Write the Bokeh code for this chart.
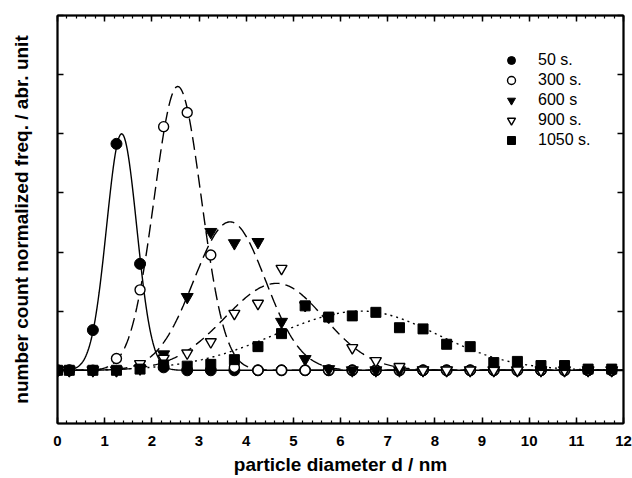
import numpy as np
from bokeh.plotting import figure
from bokeh.models import (Range1d, LinearAxis, SingleIntervalTicker,
                          CustomJSTickFormatter, Legend, LegendItem)
from bokeh.embed import file_html
from bokeh.resources import INLINE

# ---- data ----
diameter = [0, 0.25, 0.75, 1.25, 1.75, 2.25, 2.75, 3.25, 3.75, 4.25, 4.75, 5.25,
            5.75, 6.25, 6.75, 7.25, 7.75, 8.25, 8.75, 9.25, 9.75, 10.25, 10.75,
            11.25, 11.75]
count_50 = [0, 0, 0.68, 3.83, 1.80, 0.05, 0, 0, 0, 0, 0, 0,
            0, 0, 0, 0, 0, 0, 0, 0, 0, 0, 0, 0, 0]
count_300 = [0, 0, 0, 0.20, 1.36, 4.12, 4.36, 1.95, 0.05, 0, 0, 0,
             0, 0, 0, 0, 0, 0, 0, 0, 0, 0, 0, 0, 0]
count_600 = [0, 0, 0, 0, 0.03, 0.27, 1.24, 2.34, 2.15, 2.17, 0.82, 0.19,
             0.02, 0, 0, 0, 0, 0, 0, 0, 0, 0, 0, 0, 0]
count_900 = [0, 0, 0, 0, 0.11, 0.20, 0.29, 0.48, 0.96, 1.13, 1.72, 1.10,
             0.90, 0.38, 0.16, 0.06, 0, 0, 0, 0, 0, 0, 0, 0, 0]
count_1050 = [0, 0, 0, 0, 0.02, 0.09, 0.07, 0.10, 0.18, 0.40, 0.62, 1.09,
              0.90, 0.92, 0.98, 0.72, 0.70, 0.44, 0.40, 0.13, 0.15, 0.08, 0.08,
              0.02, 0.02]
series_labels = ["50 s.", "300 s.", "600 s", "900 s.", "1050 s."]

# fitted (split-gaussian) curve parameters
fit_center = [1.36, 2.55, 3.66, 4.65, 6.45]
fit_amp = [4.0, 4.8, 2.51, 1.47, 1.0]
fit_sig_left = [0.32, 0.50, 0.77, 1.10, 1.83]
fit_sig_right = [0.32, 0.50, 0.75, 1.00, 1.60]
fit_dash = ["solid", "13 6", "13 6", "10 6", "2 4"]

FONT = "Liberation Sans"

p = figure(frame_width=566, frame_height=408, output_backend="svg",
           toolbar_location=None, x_range=Range1d(0, 12),
           y_range=Range1d(-0.9, 6.0),
           min_border_left=57, min_border_right=9, min_border_top=15,
           min_border_bottom=55, background_fill_color="white",
           border_fill_color="white")
p.xgrid.visible = False
p.ygrid.visible = False
p.outline_line_color = "black"
p.outline_line_width = 1.5

empty = CustomJSTickFormatter(code="return ''")

def style_axis(ax, minor, labels):
    ax.axis_line_color = "black"
    ax.axis_line_width = 2
    ax.major_tick_in = 6
    ax.major_tick_out = 0
    ax.major_tick_line_width = 1.5
    ax.major_tick_line_color = "black"
    if minor:
        ax.minor_tick_in = 3
        ax.minor_tick_out = 0
        ax.minor_tick_line_width = 1.2
        ax.minor_tick_line_color = "black"
    else:
        ax.minor_tick_line_color = None
    if not labels:
        ax.formatter = empty
        ax.major_label_standoff = 0

# bottom axis
xa = p.xaxis[0]
xa.ticker = SingleIntervalTicker(interval=1, num_minor_ticks=5)
style_axis(xa, True, True)
xa.major_label_text_font = FONT
xa.major_label_text_font_style = "bold"
xa.major_label_text_font_size = "15px"
xa.major_label_text_color = "black"
xa.major_label_standoff = 12
xa.axis_label = "particle diameter d / nm"
xa.axis_label_text_font = FONT
xa.axis_label_text_font_style = "bold"
xa.axis_label_text_font_size = "19px"
xa.axis_label_text_color = "black"
xa.axis_label_standoff = 5

# left axis
ya = p.yaxis[0]
ya.ticker = SingleIntervalTicker(interval=1, num_minor_ticks=0)
style_axis(ya, False, False)
ya.axis_label = "number count normalized freq. / abr. unit"
ya.axis_label_text_font = FONT
ya.axis_label_text_font_style = "bold"
ya.axis_label_text_font_size = "19px"
ya.axis_label_text_color = "black"
ya.axis_label_standoff = 26

# top and right mirror axes
top = LinearAxis(ticker=SingleIntervalTicker(interval=1, num_minor_ticks=5))
style_axis(top, True, False)
p.add_layout(top, "above")
right = LinearAxis(ticker=SingleIntervalTicker(interval=1, num_minor_ticks=0))
style_axis(right, False, False)
p.add_layout(right, "right")

# fitted curves
xs = np.linspace(0, 12, 600)
for c, a, sl, sr, dash in zip(fit_center, fit_amp, fit_sig_left, fit_sig_right, fit_dash):
    sig = np.where(xs < c, sl, sr)
    ys = a * np.exp(-(xs - c) ** 2 / (2 * sig ** 2))
    p.line(xs, ys, line_color="black", line_width=1.4, line_dash=dash)

# data markers
r50 = p.scatter(diameter, count_50, marker="circle", size=11,
                fill_color="black", line_color="black")
r300 = p.scatter(diameter, count_300, marker="circle", size=10,
                 fill_color="white", line_color="black", line_width=1.4)
r600 = p.scatter(diameter, count_600, marker="inverted_triangle", size=12,
                 fill_color="black", line_color="black")
r900 = p.scatter(diameter, count_900, marker="inverted_triangle", size=11,
                 fill_color="white", line_color="black", line_width=1.4)
r1050 = p.scatter(diameter, count_1050, marker="square", size=10,
                  fill_color="black", line_color="black")

legend = Legend(items=[LegendItem(label=l, renderers=[r]) for l, r in
                       zip(series_labels, [r50, r300, r600, r900, r1050])],
                location=(444, 273), border_line_color=None,
                background_fill_alpha=0, label_text_font=FONT,
                label_text_font_size="16px", label_text_color="black",
                glyph_width=20, glyph_height=20,
                label_height=20, spacing=0, padding=0, margin=0,
                label_standoff=17)
p.add_layout(legend)

open("out.html", "w").write(file_html(p, INLINE))
